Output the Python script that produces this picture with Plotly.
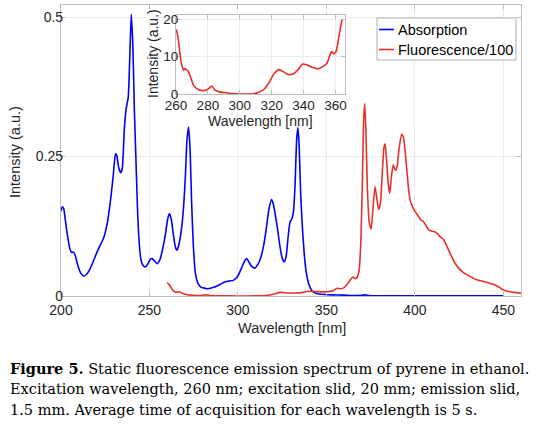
import plotly.graph_objects as go

# ---------------- data ----------------
abs_nm = [200, 200.7, 201.5, 202.5, 203.5, 205, 206, 207, 208, 209.5, 211, 212.7, 214.5, 216, 218, 220, 222, 224, 226, 228,
          229.5, 230.8, 231.5, 232.5, 233.6, 234.6, 235.8, 236.8, 238, 238.8, 239.7, 240.6, 241.5, 242.3, 243.2, 244.2,
          245.2, 246.5, 247.5, 249, 250.5, 251.5, 253, 254.4, 256, 257.3, 259, 260.3, 261.3, 262.3, 263.5, 264.7, 265.5,
          266.5, 268, 269.3, 270.3, 271.2, 272.1, 273, 273.8, 274.8, 276, 277.5, 279, 283, 286.7, 290, 292.5, 295, 297.4,
          300, 302, 304, 305, 306, 307.5, 309.5, 311.5, 313, 314.5, 316, 317.5, 319, 320, 321, 322.5, 323.8, 325, 326.2,
          327.2, 328.5, 329.5, 330.5, 331.5, 332.3, 333.2, 333.9, 334.6, 335.5, 336.5, 337.5, 338.5, 340, 342, 344, 347,
          353, 360, 365, 370, 372, 374, 380, 400, 450]
abs_val = [0.152, 0.160, 0.157, 0.135, 0.112, 0.085, 0.078, 0.079, 0.073, 0.055, 0.042, 0.036, 0.039, 0.046, 0.060, 0.076,
           0.090, 0.103, 0.128, 0.172, 0.215, 0.255, 0.252, 0.232, 0.221, 0.228, 0.300, 0.335, 0.356, 0.42, 0.505, 0.45,
           0.33, 0.25, 0.16, 0.095, 0.065, 0.054, 0.052, 0.057, 0.066, 0.067, 0.062, 0.058, 0.066, 0.082, 0.11, 0.138,
           0.148, 0.138, 0.11, 0.087, 0.082, 0.09, 0.118, 0.16, 0.215, 0.28, 0.303, 0.26, 0.17, 0.09, 0.04, 0.022, 0.016,
           0.013, 0.016, 0.021, 0.025, 0.027, 0.028, 0.036, 0.05, 0.064, 0.067, 0.062, 0.054, 0.05, 0.058, 0.07, 0.09,
           0.12, 0.155, 0.173, 0.165, 0.148, 0.118, 0.088, 0.068, 0.061, 0.07, 0.11, 0.133, 0.138, 0.155, 0.2, 0.28,
           0.302, 0.27, 0.18, 0.12, 0.075, 0.045, 0.022, 0.009, 0.005, 0.003, 0.002, 0.0015, 0.001, 0.0012, 0.002, 0.001,
           0.0005, 0.0003, 0.0003]

fl_nm = [260, 261, 262, 263, 264, 265, 266, 267, 268, 270, 273, 278, 282, 285, 290, 300, 310, 316, 320, 324, 328, 333, 336,
         340, 345, 350, 354, 356, 358, 360, 362, 364, 365, 366.5, 367.5, 368.5, 369.5, 370.3, 371, 371.7, 372.4, 373.2,
         374.3, 375.3, 376.3, 377.5, 378.5, 379.5, 380.5, 381.5, 382.5, 383.2, 384, 385, 385.8, 386.8, 387.8, 389, 390,
         391, 392.5, 393.5, 394.5, 395.5, 396.5, 397.5, 399, 400.5, 402, 403.5, 405, 406.5, 408, 410, 412, 414, 416, 418,
         420, 422.5, 425, 427.5, 430, 435, 440, 445, 448, 450, 453, 456, 460]
fl_val = [0.024, 0.021, 0.016, 0.011, 0.008, 0.007, 0.007, 0.0075, 0.006, 0.003, 0.0015, 0.001, 0.002, 0.0008, 0.0005, 0.0,
          0.0002, 0.001, 0.003, 0.0065, 0.0055, 0.0055, 0.006, 0.0085, 0.0078, 0.0075, 0.0095, 0.014, 0.013, 0.015,
          0.022, 0.031, 0.034, 0.031, 0.034, 0.046, 0.1, 0.2, 0.31, 0.345, 0.29, 0.19, 0.13, 0.12, 0.155, 0.196, 0.175,
          0.155, 0.165, 0.215, 0.265, 0.273, 0.245, 0.2, 0.184, 0.215, 0.235, 0.225, 0.232, 0.262, 0.29, 0.285, 0.26,
          0.225, 0.19, 0.17, 0.158, 0.15, 0.143, 0.136, 0.133, 0.125, 0.118, 0.116, 0.114, 0.107, 0.102, 0.09, 0.076,
          0.06, 0.049, 0.042, 0.037, 0.029, 0.025, 0.02, 0.015, 0.011, 0.008, 0.0065, 0.005]

inset_nm = [260, 260.4, 261.5, 263, 264.2, 265, 265.6, 266.3, 267.8, 269.3, 271, 274, 277.3, 279.8, 282.5, 284.6, 287.8,
            291, 295, 300.4, 306.7, 311, 315, 318.3, 321.5, 324.6, 327.4, 330.3, 333.7, 336.2, 339.4, 342.5, 345.7,
            348.8, 352, 354.7, 356.2, 357.7, 358.9, 360.4, 362.5, 364.2]
inset_val = [17.2, 16.9, 14.3, 9.1, 6.9, 6.3, 6.8, 6.6, 6.0, 4.3, 2.3, 1.2, 0.9, 1.2, 2.1, 1.0, 0.5, 0.4, 0.1, 0.0, 0.0,
             0.3, 1.2, 3.0, 5.4, 6.5, 5.9, 5.2, 5.4, 6.3, 8.0, 7.7, 7.1, 6.7, 7.3, 8.2, 10.0, 11.3, 10.7, 11.3, 16.1, 20.0]

main_xticks = [200, 250, 300, 350, 400, 450]
main_yticks = [0, 0.25, 0.5]
main_yticklabels = ["0", "0.25", "0.5"]
inset_xticks = [260, 280, 300, 320, 340, 360]
inset_yticks = [0, 10, 20]

series_names = ["Absorption", "Fluorescence/100"]
BLUE = "#0000ff"
RED = "#e8302a"

W, H = 544, 438
def px(x):
    return x / W
def py(y):
    return (H - y) / H

FONT = "Liberation Sans, Arial, sans-serif"
AX = "#bdbdbd"
GRID = "#ebebeb"
TXT = "#262626"

fig = go.Figure()
fig.add_trace(go.Scatter(x=abs_nm, y=abs_val, mode="lines", name=series_names[0],
                         line=dict(color=BLUE, width=1.6, shape="spline", smoothing=0.5),
                         xaxis="x", yaxis="y", showlegend=False))
fig.add_trace(go.Scatter(x=fl_nm, y=fl_val, mode="lines", name=series_names[1],
                         line=dict(color=RED, width=1.6, shape="spline", smoothing=0.5),
                         xaxis="x", yaxis="y", showlegend=False))
fig.add_trace(go.Scatter(x=inset_nm, y=inset_val, mode="lines", name=series_names[1],
                         line=dict(color=RED, width=1.6, shape="spline", smoothing=0.5),
                         xaxis="x2", yaxis="y2", showlegend=False))

axcommon = dict(showline=True, linecolor=AX, linewidth=1.2, mirror="ticks", ticks="inside",
                ticklen=4, tickcolor=AX, showgrid=True, gridcolor=GRID, gridwidth=1, zeroline=False,
                automargin=False)
mainfont = dict(family=FONT, size=14, color=TXT)
insetfont = dict(family=FONT, size=13.5, color=TXT)

fig.update_layout(
    template="none",
    width=W, height=H,
    margin=dict(l=0, r=0, t=0, b=0, pad=0),
    paper_bgcolor="white", plot_bgcolor="white",
    showlegend=False,
    xaxis=dict(domain=[px(61), px(521)], range=[200, 460], tickvals=main_xticks, anchor="y",
               tickfont=mainfont, ticklabelstandoff=1, **axcommon),
    yaxis=dict(domain=[py(296), py(4.5)], range=[0, 0.5225], tickvals=main_yticks, ticktext=main_yticklabels,
               anchor="x", tickfont=mainfont, ticklabelstandoff=-6, **axcommon),
    xaxis2=dict(domain=[px(176), px(345)], range=[260, 366], tickvals=inset_xticks, anchor="y2",
                tickfont=insetfont, ticklabelstandoff=-1, **axcommon),
    yaxis2=dict(domain=[py(94), py(15)], range=[0, 21.07], tickvals=inset_yticks, anchor="x2",
                tickfont=insetfont, ticklabelstandoff=-6, **axcommon),
)

ann = []
# axis titles
ann.append(dict(text="Wavelength [nm]", x=px(291.5), y=py(328), xref="paper", yref="paper",
                showarrow=False, xanchor="center", yanchor="middle", font=dict(family=FONT, size=14.5, color=TXT)))
ann.append(dict(text="Intensity (a.u.)", x=px(15), y=py(152), xref="paper", yref="paper", textangle=-90,
                showarrow=False, xanchor="center", yanchor="middle", font=dict(family=FONT, size=14.5, color=TXT)))
ann.append(dict(text="Wavelength [nm]", x=px(260.5), y=py(121), xref="paper", yref="paper",
                showarrow=False, xanchor="center", yanchor="middle", font=dict(family=FONT, size=14, color=TXT)))
ann.append(dict(text="Intensity (a.u.)", x=px(153), y=py(54), xref="paper", yref="paper", textangle=-90,
                showarrow=False, xanchor="center", yanchor="middle", font=dict(family=FONT, size=14, color=TXT)))

# legend (manual)
shapes = [dict(type="rect", xref="paper", yref="paper", x0=px(377), x1=px(516), y0=py(60), y1=py(18),
               line=dict(color="#b0b0b0", width=1), fillcolor="white", layer="above")]
for i, (name, col) in enumerate(zip(series_names, [BLUE, RED])):
    yy = 29.5 + i * 20
    shapes.append(dict(type="line", xref="paper", yref="paper", x0=px(379), x1=px(394), y0=py(yy), y1=py(yy),
                       line=dict(color=col, width=1.6), layer="above"))
    ann.append(dict(text=name, x=px(395.5), y=py(yy), xref="paper", yref="paper", showarrow=False,
                    xanchor="left", yanchor="middle", font=dict(family=FONT, size=14.5, color="black")))

# caption
SERIF = "DejaVu Serif, serif"
cap = ["<b>Figure 5.</b> Static fluorescence emission spectrum of pyrene in ethanol.",
       "Excitation wavelength, 260 nm; excitation slid, 20 mm; emission slid,",
       "1.5 mm. Average time of acquisition for each wavelength is 5 s."]
for i, line in enumerate(cap):
    ann.append(dict(text=line, x=px(8), y=py(368 + i * 21), xref="paper", yref="paper", showarrow=False,
                    xanchor="left", yanchor="middle", font=dict(family=SERIF, size=14.5, color="black")))

fig.update_layout(annotations=ann, shapes=shapes)
fig.write_html("out.html", config={"displayModeBar": False},
               post_script="document.body.style.margin='0px';")
